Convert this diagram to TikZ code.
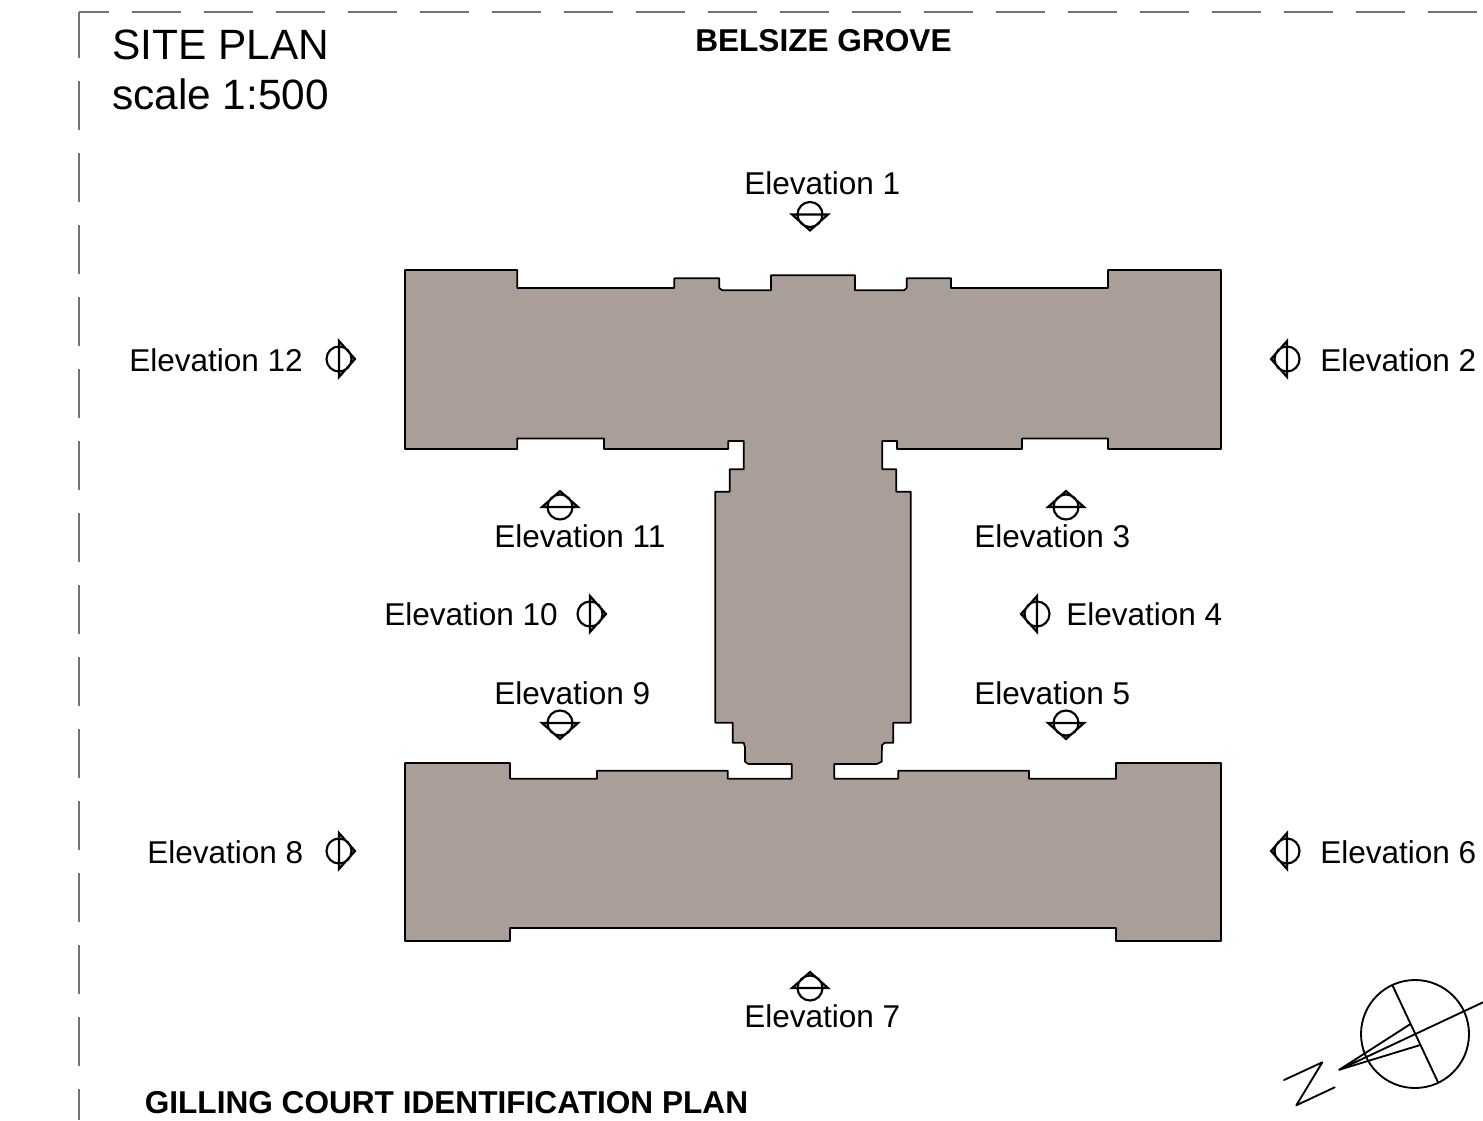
\documentclass[tikz,border=0pt]{standalone}
\usepackage{fontspec}
\setmainfont{Liberation Sans}
\definecolor{blockfill}{HTML}{A99E98}
\tikzset{
  outline/.style={draw=black,line width=1.25pt,fill=blockfill,line join=round},
  plotborder/.style={draw=black!55,line width=0.95pt},
  elevlabel/.style={anchor=base west,inner sep=0pt,font=\fontsize{23.65}{28}\selectfont},
  bigtitle/.style={anchor=base west,inner sep=0pt,font=\fontsize{31.8}{38}\selectfont},
  boldtitle/.style={anchor=base west,inner sep=0pt,font=\bfseries\fontsize{23.7}{29}\selectfont},
  compass/.style={draw=black,line width=1.4pt,line join=round,line cap=round},
  pics/elevmark/.style={code={
    \draw[black,line width=1.6pt,line join=miter]
      (0,0) circle[radius=12.5]
      (-18,0) -- (18,0) -- (0,16) -- cycle;
  }}
}
\begin{document}
\begin{tikzpicture}[x=0.75pt,y=-0.75pt]
\useasboundingbox (0,0) rectangle (1483,1120);
\clip (0,0) rectangle (1483,1120);
% dashed plot border
\draw[plotborder,dash pattern=on 36.75pt off 17.25pt,dash phase=14.25pt] (79,12) -- (1483,12);
\draw[plotborder,dash pattern=on 36.75pt off 17.25pt,dash phase=2.25pt] (79,12) -- (79,1120);
% building outline
\draw[outline] (405,270) -- (517.3,270) -- (517.3,288) -- (674.3,288) -- (674.3,278.3) -- (719.3,278.3) -- (719.3,288) -- (722.3,290.3) -- (771,290.3) -- (771,275.3) -- (855,275.3) -- (855,290.3) -- (904,290.3) -- (906.7,288) -- (906.7,278.3) -- (951,278.3) -- (951,288) -- (1108,288) -- (1108,270) -- (1221,270) -- (1221,449) -- (1108,449) -- (1108,438.5) -- (1022,438.5) -- (1022,449) -- (897,449) -- (897,441) -- (882.3,441) -- (882.3,469.3) -- (896.3,469.3) -- (896.3,491.7) -- (910.7,491.7) -- (910.7,722.7) -- (893.3,722.7) -- (893.3,742.7) -- (885,742.7) -- (882,745) -- (881.7,761.7) -- (876.7,764) -- (834.3,764) -- (834.3,778.7) -- (898.3,778.7) -- (898.3,770.7) -- (1029,770.7) -- (1029,778.7) -- (1116,778.7) -- (1116,763) -- (1221,763) -- (1221,941) -- (1116,941) -- (1116,928) -- (510,928) -- (510,941) -- (405,941) -- (405,763) -- (510,763) -- (510,778.7) -- (597,778.7) -- (597,770.7) -- (727.7,770.7) -- (727.7,778.7) -- (791.7,778.7) -- (791.7,764) -- (748.3,764) -- (745,761.7) -- (745,747.3) -- (743.7,742.7) -- (732.7,742.7) -- (732.7,722.7) -- (715.3,722.7) -- (715.3,491.7) -- (729.7,491.7) -- (729.7,469.3) -- (743.7,469.3) -- (743.7,441) -- (728.3,441) -- (728.3,449) -- (604,449) -- (604,438.5) -- (517.3,438.5) -- (517.3,449) -- (405,449) -- cycle;
% elevation markers
\pic[rotate=0] at (810,214.5) {elevmark};
\pic[rotate=-90] at (1287,359) {elevmark};
\pic[rotate=180] at (1066,507) {elevmark};
\pic[rotate=-90] at (1037,614) {elevmark};
\pic[rotate=0] at (1066,723) {elevmark};
\pic[rotate=-90] at (1287,851) {elevmark};
\pic[rotate=180] at (810,988) {elevmark};
\pic[rotate=90] at (339,851) {elevmark};
\pic[rotate=0] at (560,723) {elevmark};
\pic[rotate=90] at (590,614) {elevmark};
\pic[rotate=180] at (560,507) {elevmark};
\pic[rotate=90] at (339,359) {elevmark};
% labels
\node[elevlabel] (e1) at (744,194) {Elevation 1};
\node[elevlabel] (e2) at (1320,371) {Elevation 2};
\node[elevlabel] (e3) at (974,547) {Elevation 3};
\node[elevlabel] (e4) at (1066,625) {Elevation 4};
\node[elevlabel] (e5) at (974,704) {Elevation 5};
\node[elevlabel] (e6) at (1320,863) {Elevation 6};
\node[elevlabel] (e7) at (744,1027) {Elevation 7};
\node[elevlabel] (e8) at (147,863) {Elevation 8};
\node[elevlabel] (e9) at (494,704) {Elevation 9};
\node[elevlabel] (e10) at (384,625) {Elevation 10};
\node[elevlabel] (e11) at (494,547) {Elevation 11};
\node[elevlabel] (e12) at (129,371) {Elevation 12};
\node[bigtitle] (t1) at (112,60) {SITE PLAN};
\node[bigtitle] (t2) at (112,110) {scale 1:500};
\node[boldtitle] (t3) at (695,52) {BELSIZE GROVE};
\node[boldtitle] (t4) at (144.5,1113) {GILLING COURT IDENTIFICATION PLAN};
% north point
\draw[compass] (1415,1034) circle[radius=54];
\draw[compass] (1392.3,985) -- (1438,1082.3);
\draw[compass] (1410,1024.3) -- (1339.3,1069.7) -- (1483,1002.3);
\draw[compass] (1339.3,1069.7) -- (1420.3,1045);
\draw[compass] (1284,1080) -- (1322.3,1062.3) -- (1296.3,1105.3) -- (1334.7,1087.3);
\end{tikzpicture}
\end{document}
